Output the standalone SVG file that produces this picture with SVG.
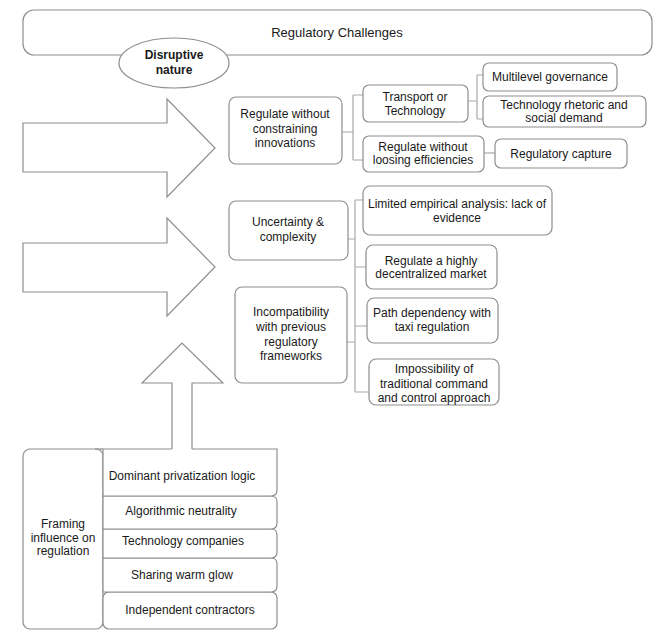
<svg xmlns="http://www.w3.org/2000/svg" width="672" height="631" viewBox="0 0 672 631">
<style>
.bx{fill:#fff;stroke:#8e8e8e;stroke-width:1.2}
.ar{fill:#fff;stroke:#8e8e8e;stroke-width:1.2;stroke-linejoin:miter}
.ln{fill:none;stroke:#a8a8a8;stroke-width:1.2}
text{font-family:"Liberation Sans",Arial,sans-serif;font-size:12px;fill:#1a1a1a;text-anchor:middle}
.b{font-weight:bold}
</style>
<rect width="672" height="631" fill="#fff"/>
<g id="connectors">
<path class="ln" d="M342,132 H353 M353,95 V160 M353,95 H363 M353,160 H363"/>
<path class="ln" d="M468,101 H477 M477,75 V119 M477,75 H483 M477,119 H483"/>
<path class="ln" d="M484,153 H495"/>
<path class="ln" d="M348,239 H355 M355,200 V392 M355,200 H363 M355,267 H366 M355,326 H367 M347,342 H355 M355,392 H369"/>
</g>
<g id="regulatory-challenges">
<rect class="bx" x="23" y="10" width="629" height="45" rx="11"/>
<text x="337" y="37" style="font-size:13px">Regulatory Challenges</text>
</g>
<g id="disruptive-nature">
<ellipse class="bx" cx="174" cy="63" rx="55" ry="25"/>
<text class="b" x="174" y="59">Disruptive</text>
<text class="b" x="174" y="74">nature</text>
</g>
<g id="arrow-1"><polygon class="ar" points="23,123 167,123 167,99 215,148 167,197 167,172 23,172"/></g>
<g id="arrow-2"><polygon class="ar" points="23,243 167,243 167,218 215,267 167,316 167,292 23,292"/></g>
<g id="regulate-constraining">
<rect class="bx" x="229" y="97" width="113" height="67" rx="7"/>
<text x="285" y="118">Regulate without</text>
<text x="285" y="133">constraining</text>
<text x="285" y="147">innovations</text>
</g>
<g id="transport">
<rect class="bx" x="363" y="85" width="105" height="37" rx="6"/>
<text x="415" y="101">Transport or</text>
<text x="415" y="115">Technology</text>
</g>
<g id="multilevel">
<rect class="bx" x="483" y="63" width="134" height="28" rx="6"/>
<text x="550" y="81">Multilevel governance</text>
</g>
<g id="tech-rhetoric">
<rect class="bx" x="483" y="96" width="163" height="31" rx="6"/>
<text x="564" y="109">Technology rhetoric and</text>
<text x="564" y="122">social demand</text>
</g>
<g id="regulate-efficiencies">
<rect class="bx" x="363" y="136" width="121" height="36" rx="6"/>
<text x="423" y="151">Regulate without</text>
<text x="423" y="164">loosing efficiencies</text>
</g>
<g id="regulatory-capture">
<rect class="bx" x="495" y="139" width="132" height="29" rx="6"/>
<text x="561" y="158">Regulatory capture</text>
</g>
<g id="uncertainty">
<rect class="bx" x="229" y="201" width="119" height="59" rx="7"/>
<text x="288" y="226">Uncertainty &amp;</text>
<text x="288" y="241">complexity</text>
</g>
<g id="limited-empirical">
<rect class="bx" x="363" y="186" width="189" height="49" rx="7"/>
<text x="457" y="208">Limited empirical analysis: lack of</text>
<text x="457" y="222">evidence</text>
</g>
<g id="decentralized">
<rect class="bx" x="366" y="245" width="131" height="44" rx="7"/>
<text x="431" y="265">Regulate a highly</text>
<text x="431" y="278">decentralized market</text>
</g>
<g id="incompatibility">
<rect class="bx" x="235" y="287" width="112" height="96" rx="7"/>
<text x="291" y="316">Incompatibility</text>
<text x="291" y="331">with previous</text>
<text x="291" y="346">regulatory</text>
<text x="291" y="360">frameworks</text>
</g>
<g id="path-dependency">
<rect class="bx" x="367" y="298" width="131" height="45" rx="7"/>
<text x="432" y="317">Path dependency with</text>
<text x="432" y="331">taxi regulation</text>
</g>
<g id="impossibility">
<rect class="bx" x="369" y="359" width="130" height="46" rx="7"/>
<text x="434" y="373">Impossibility of</text>
<text x="434" y="388">traditional command</text>
<text x="434" y="402">and control approach</text>
</g>
<g id="framing">
<rect class="bx" x="23" y="449" width="80" height="180" rx="7"/>
<text x="63" y="528">Framing</text>
<text x="63" y="541.5">influence on</text>
<text x="63" y="555">regulation</text>
</g>
<g id="independent-contractors">
<rect class="bx" x="103" y="592" width="174" height="37" rx="6"/>
<text x="190" y="614">Independent contractors</text>
</g>
<g id="sharing-warm-glow">
<path class="bx" d="M103,558 H271 Q277,558 277,564 V586 Q277,592 271,592 H103 Z"/>
<text x="182" y="579">Sharing warm glow</text>
</g>
<g id="technology-companies">
<path class="bx" d="M103,529 H271 Q277,529 277,535 V552 Q277,558 271,558 H103 Z"/>
<text x="183" y="545">Technology companies</text>
</g>
<g id="algorithmic-neutrality">
<path class="bx" d="M103,496 H271 Q277,496 277,502 V523 Q277,529 271,529 H103 Z"/>
<text x="181" y="515">Algorithmic neutrality</text>
</g>
<g id="dominant-privatization">
<path class="bx" d="M103,449 H277 V490 Q277,496 271,496 H103 Z"/>
<path class="ln" d="M95,449 H103" style="stroke:#8e8e8e"/>
<text x="182" y="480">Dominant privatization logic</text>
</g>
<g id="up-arrow">
<polygon points="172,450 172,383 142,383 182,343 223,383 192,383 192,450" fill="#fff"/>
<polyline class="ar" style="fill:none" points="172,449 172,383 142,383 182,343 223,383 192,383 192,449"/>
</g>
</svg>
